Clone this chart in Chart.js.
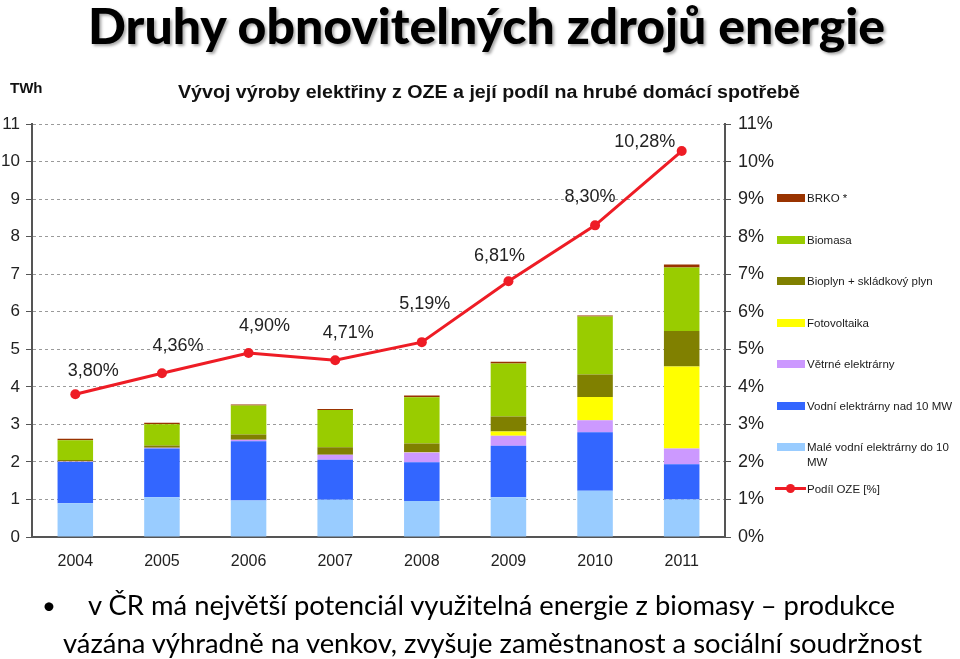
<!DOCTYPE html>
<html>
<head>
<meta charset="utf-8">
<script src="https://cdn.jsdelivr.net/npm/chart.js@4/dist/chart.umd.min.js"></script>
<style>
  body { margin: 0; background: #fff; width: 960px; height: 659px; overflow: hidden; position: relative; }
  #chart { position: absolute; left: 0; top: 0; }
  .fit { position: absolute; display: inline-block; white-space: nowrap; transform-origin: left top; }
  #title { font-family: Lato, "Open Sans", sans-serif; font-weight: 900; font-size: 50px; line-height: 50px; color: #000;
           text-shadow: 2px 2px 3px rgba(0,0,0,0.35); left: 88px; top: 0px; }
  #sub { font-family: "Liberation Sans", Arial, sans-serif; font-weight: bold; font-size: 18px; line-height: 20px; color: #111; left: 178px; top: 82px; }
  #unit { font-family: "Liberation Sans", Arial, sans-serif; font-weight: bold; font-size: 15px; color: #111; left: 10px; top: 79px; }
  .bul { font-family: Lato, "Open Sans", sans-serif; font-size: 27px; line-height: 30px; color: #000; }
  #dot { position: absolute; left: 42px; top: 590px; font-size: 24px; font-family: Lato, sans-serif; }
  #legend { position: absolute; left: 775px; top: 0; font-family: "Liberation Sans", Arial, sans-serif; font-size: 11.5px; color: #1a1a1a; }
  .row { position: absolute; left: 0; width: 185px; }
  .sw { position: absolute; left: 2px; top: 2px; width: 28px; height: 8px; }
  .tx { position: absolute; left: 32px; top: 0; width: 152px; line-height: 15px; }
</style>
</head>
<body>
<canvas id="chart" width="960" height="659"></canvas>
<div id="title" class="fit">Druhy obnovitelných zdrojů energie</div>
<div id="unit" class="fit">TWh</div>
<div id="sub" class="fit">Vývoj výroby elektřiny z OZE a její podíl na hrubé domácí spotřebě</div>
<div id="legend"></div>
<div id="dot">•</div>
<div id="line1" class="fit bul">v ČR má největší potenciál využitelná energie z biomasy – produkce</div>
<div id="line2" class="fit bul">vázána výhradně na venkov, zvyšuje zaměstnanost a sociální soudržnost</div>
<script>
const years = ["2004", "2005", "2006", "2007", "2008", "2009", "2010", "2011"];
const maleVodni = [0.90, 1.06, 0.97, 0.99, 0.96, 1.06, 1.23, 1.00];
const vodniNad10 = [1.10, 1.30, 1.58, 1.07, 1.03, 1.37, 1.56, 0.94];
const vetrne = [0.01, 0.02, 0.04, 0.13, 0.26, 0.27, 0.32, 0.42];
const fotovoltaika = [0, 0, 0, 0, 0.01, 0.11, 0.62, 2.18];
const bioplyn = [0.04, 0.06, 0.14, 0.20, 0.23, 0.40, 0.60, 0.95];
const biomasa = [0.53, 0.56, 0.77, 0.99, 1.23, 1.41, 1.54, 1.69];
const brko = [0.04, 0.04, 0.03, 0.03, 0.05, 0.05, 0.03, 0.08];
const podilOze = [3.80, 4.36, 4.90, 4.71, 5.19, 6.81, 8.30, 10.28];

// nudges for the % labels so they sit like in the original
const labelNudge = [[18, -23], [16, -27], [16, -27], [13, -27], [3, -38], [-9, -25], [-5, -28], [-37, -9]];

function fitWidth(id, w) {
  const el = document.getElementById(id);
  const r = el.getBoundingClientRect().width;
  el.style.transform = "scaleX(" + (w / r) + ")";
}

function bar(label, data, color) {
  return { type: "bar", label, data, backgroundColor: color, yAxisID: "y", order: 1,
           barPercentage: 0.41, categoryPercentage: 1, stack: "oze" };
}

const pctLabels = {
  id: "pctLabels",
  afterDatasetsDraw(chart) {
    const ctx = chart.ctx;
    const meta = chart.getDatasetMeta(7);
    ctx.save();
    ctx.font = "18px 'Liberation Sans', Arial, sans-serif";
    ctx.fillStyle = "#222";
    ctx.textAlign = "center";
    ctx.textBaseline = "middle";
    meta.data.forEach((pt, i) => {
      const txt = podilOze[i].toFixed(2).replace(".", ",") + "%";
      ctx.fillText(txt, pt.x + labelNudge[i][0], pt.y + labelNudge[i][1]);
    });
    ctx.restore();
  }
};

const tickFont = { family: "'Liberation Sans', Arial, sans-serif", size: 17 };

const chart = new Chart(document.getElementById("chart"), {
  data: {
    labels: years,
    datasets: [
      bar("Malé vodní elektrárny do 10 MW", maleVodni, "#99ccff"),
      bar("Vodní elektrárny nad 10 MW", vodniNad10, "#3366ff"),
      bar("Větrné elektrárny", vetrne, "#cc99ff"),
      bar("Fotovoltaika", fotovoltaika, "#ffff00"),
      bar("Bioplyn + skládkový plyn", bioplyn, "#808000"),
      bar("Biomasa", biomasa, "#99cc00"),
      bar("BRKO *", brko, "#993300"),
      {
        type: "line", label: "Podíl OZE [%]", data: podilOze, yAxisID: "y1", order: 0,
        borderColor: "#ee1c25", backgroundColor: "#ee1c25", borderWidth: 3,
        pointRadius: 5, pointBackgroundColor: "#ee1c25", pointBorderWidth: 0, tension: 0
      }
    ]
  },
  options: {
    responsive: false,
    animation: false,
    layout: { padding: { top: 124, left: 0, right: 0, bottom: 0 } },
    plugins: { legend: { display: false }, tooltip: { enabled: false } },
    scales: {
      x: {
        stacked: true,
        grid: { display: false, drawTicks: false },
        border: { color: "#555", width: 2 },
        ticks: { font: { family: tickFont.family, size: 16 }, color: "#222", padding: 15 },
        afterFit(s) { s.height = 122; }
      },
      y: {
        stacked: true, position: "left", min: 0, max: 11,
        ticks: { stepSize: 1, font: tickFont, color: "#222", padding: 6 },
        grid: { color: "#9a9a9a", lineWidth: 1, tickLength: 6, tickColor: "#555", tickBorderDash: [], tickWidth: 1 },
        border: { color: "#555", width: 2, dash: [3, 3] },
        afterFit(s) { s.width = 32; }
      },
      y1: {
        position: "right", min: 0, max: 11,
        ticks: { stepSize: 1, font: { family: tickFont.family, size: 18 }, color: "#222", padding: 7,
                 callback: v => v + "%" },
        grid: { drawOnChartArea: false, tickLength: 6, tickColor: "#555", tickWidth: 1 },
        border: { color: "#555", width: 2 },
        afterFit(s) { s.width = 235; }
      }
    }
  },
  plugins: [pctLabels]
});

// legend built from the chart's datasets: bars top-down, then the line
const legend = document.getElementById("legend");
const items = chart.data.datasets.slice(0, 7).reverse().concat([chart.data.datasets[7]]);
items.forEach((ds, i) => {
  const row = document.createElement("div");
  row.className = "row";
  row.style.top = (191 + i * 41.5) + "px";
  let sw;
  if (ds.type === "line") {
    sw = '<div style="position:absolute;left:0;top:5px;width:31px;height:3px;background:' + ds.borderColor + '"></div>' +
         '<div style="position:absolute;left:11px;top:2px;width:9px;height:9px;border-radius:50%;background:' + ds.borderColor + '"></div>';
  } else {
    sw = '<div class="sw" style="background:' + ds.backgroundColor + ';top:3px"></div>';
  }
  row.innerHTML = sw + '<div class="tx">' + ds.label + '</div>';
  legend.appendChild(row);
});

fitWidth("title", 797);
fitWidth("sub", 622);
fitWidth("line1", 807);
fitWidth("line2", 859);
document.getElementById("line1").style.left = "88px";
document.getElementById("line1").style.top = "590px";
document.getElementById("line2").style.left = "63px";
document.getElementById("line2").style.top = "628px";
</script>
</body>
</html>
